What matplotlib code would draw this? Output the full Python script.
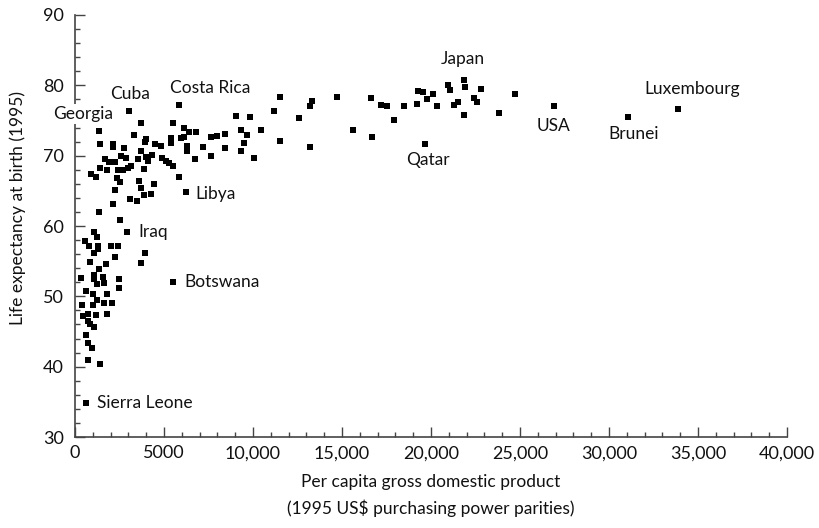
# plot.py
# Life expectancy vs GDP per capita, 1995

import matplotlib
matplotlib.use('Agg')
import matplotlib.pyplot as plt
from matplotlib.ticker import MultipleLocator

plt.rcParams['font.family'] = ['Lato', 'DejaVu Sans']

# Unlabelled countries (GDP per capita, life expectancy)
gdp = [3690, 5490, 6110, 6400, 6780, 9050, 9830, 1400, 2120, 2150,
       3320, 3970, 3920, 2740, 3690, 4480, 4820, 5380, 5380, 5940,
       6120, 6290, 6280, 6730, 7170, 7620, 7960, 8410, 8410, 7640,
       9310, 9650, 9480, 9310, 10040, 10450, 1690, 1930, 1420, 1780,
       2250, 2570, 2850, 3520, 3990, 4310, 4080, 3890, 2430, 2710,
       2990, 3160, 4870, 5110, 5300, 5520, 5830, 880, 1160, 2380,
       2530, 3600, 3730, 3880, 4250, 4440, 3070, 3470, 2250, 2120,
       1350, 2530,
       545, 1050, 1220, 800, 1310, 1275, 1050, 2010, 2400, 2230,
       3920, 3690, 840, 1730, 1330, 320, 1050, 1080, 1560, 1220,
       1610, 2470, 2470, 600, 990, 1220, 1780, 380, 990, 1610,
       2060, 470, 710, 1160, 1780, 710, 860, 1050, 620, 730,
       940, 730, 1400,
       11180, 11500, 11500, 12580, 13320, 13200, 13190, 14720, 15600, 16610,
       16690, 17170, 17510, 17910, 18470, 19200, 19250, 19570, 19760, 20100,
       20320, 20960, 21070, 21290, 21520, 21910, 21850, 22420, 22580, 22810,
       23820, 24720]
life = [74.7, 74.7, 74.0, 73.4, 73.3, 75.7, 75.5, 71.7, 71.6, 71.2,
        72.9, 72.4, 71.9, 71.1, 70.7, 71.7, 71.4, 72.5, 71.8, 72.5,
        72.6, 71.4, 70.7, 69.5, 71.3, 72.6, 72.8, 73.1, 71.1, 69.9,
        73.7, 73.0, 71.8, 70.7, 69.6, 73.7, 69.5, 69.1, 68.3, 68.0,
        69.1, 69.9, 69.7, 69.5, 69.8, 70.1, 69.3, 68.1, 67.9, 67.9,
        68.2, 68.6, 69.7, 69.3, 68.9, 68.5, 67.0, 67.4, 66.9, 66.8,
        66.2, 66.4, 65.4, 64.4, 64.5, 66.0, 63.9, 63.6, 65.1, 63.1,
        62.0, 60.8,
        57.9, 59.1, 58.5, 57.1, 57.1, 56.7, 56.1, 57.2, 57.1, 55.6,
        56.2, 54.8, 54.9, 54.6, 53.9, 52.6, 53.0, 52.5, 52.7, 51.8,
        51.9, 52.4, 51.2, 50.8, 50.4, 49.5, 50.4, 48.8, 48.7, 49.1,
        49.0, 47.2, 47.5, 47.4, 47.5, 46.5, 46.1, 45.6, 44.5, 43.4,
        42.7, 41.0, 40.4,
        76.4, 78.4, 72.1, 75.4, 77.8, 77.0, 71.3, 78.4, 73.6, 78.2,
        72.7, 77.2, 77.1, 75.1, 77.0, 77.4, 79.2, 79.0, 78.1, 78.7,
        77.0, 80.0, 79.4, 77.2, 77.7, 79.8, 75.8, 78.2, 77.7, 79.5,
        76.0, 78.8]

# Labelled countries
label_names = ['Sierra Leone', 'Botswana', 'Iraq', 'Libya', 'Georgia', 'Cuba',
               'Costa Rica', 'Japan', 'Qatar', 'USA', 'Brunei', 'Luxembourg']
label_gdp = [600, 5500, 2920, 6230, 1350, 3030, 5820, 21850, 19660, 26910, 31050, 33860]
label_life = [34.8, 52.0, 59.2, 64.8, 73.5, 76.4, 77.2, 80.8, 71.7, 77.0, 75.5, 76.6]

# Text offsets (points) and alignment for each label
label_offsets = {
    'Sierra Leone': (8, 0, 'left'),
    'Botswana': (8, 0, 'left'),
    'Iraq': (8.5, 0, 'left'),
    'Libya': (7, -1, 'left'),
    'Georgia': (-11.5, 12, 'center'),
    'Cuba': (0.7, 12, 'center'),
    'Costa Rica': (22.7, 12, 'center'),
    'Japan': (-0.7, 14.8, 'center'),
    'Qatar': (2.2, -11.7, 'center'),
    'USA': (0, -14.4, 'center'),
    'Brunei': (4.2, -12.2, 'center'),
    'Luxembourg': (10.7, 14.9, 'center'),
}

xticks = [0, 5000, 10000, 15000, 20000, 25000, 30000, 35000, 40000]
xtick_labels = ['0', '5000', '10,000', '15,000', '20,000', '25,000',
                '30,000', '35,000', '40,000']
yticks = [30, 40, 50, 60, 70, 80, 90]

fig = plt.figure(figsize=(8.19, 5.28), dpi=100)
ax = fig.add_axes([0.0916, 0.1723, 0.8693, 0.7993])

ax.scatter(gdp, life, marker='s', s=20, color='black', linewidths=0, zorder=3)
ax.scatter(label_gdp, label_life, marker='s', s=20, color='black', linewidths=0, zorder=3)

for name, gx, ly in zip(label_names, label_gdp, label_life):
    dx, dy, ha = label_offsets[name]
    t = ax.annotate(name, (gx, ly), xytext=(dx, dy), textcoords='offset points',
                    ha=ha, va='center', fontsize=12.5, color='#111111', zorder=5)
    if name == 'Georgia':
        t.set_bbox(dict(facecolor='white', edgecolor='none', pad=1.5))

ax.set_xlim(0, 40000)
ax.set_ylim(30, 90)
ax.set_xticks(xticks)
ax.set_xticklabels(xtick_labels)
ax.set_yticks(yticks)
ax.xaxis.set_minor_locator(MultipleLocator(1000))
ax.yaxis.set_minor_locator(MultipleLocator(2))

for side in ['top', 'right']:
    ax.spines[side].set_visible(False)
for side in ['left', 'bottom']:
    ax.spines[side].set_color('#444444')
    ax.spines[side].set_linewidth(1.2)

ax.tick_params(which='both', direction='in', color='#444444', width=1.0,
               labelsize=13, labelcolor='#111111')
ax.tick_params(which='major', length=7)
ax.tick_params(which='minor', length=3.5)
ax.tick_params(axis='y', which='major', pad=8)
ax.tick_params(axis='x', which='major', pad=6)

ax.set_ylabel('Life expectancy at birth (1995)', fontsize=12.5, color='#111111')
ax.yaxis.set_label_coords(-0.069, 0.543)
ax.set_xlabel('Per capita gross domestic product\n(1995 US\\$ purchasing power parities)',
              fontsize=12.5, color='#111111', linespacing=1.65, labelpad=9)

fig.savefig('out.png', dpi=100)
